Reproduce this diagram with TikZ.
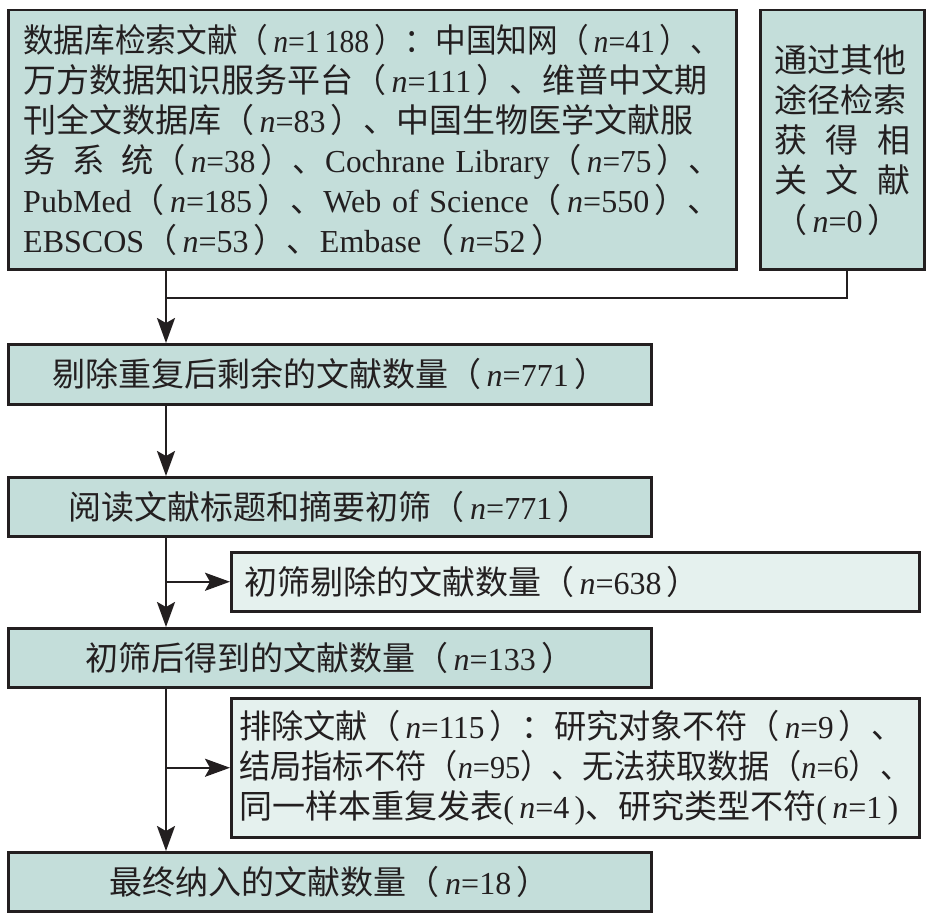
\documentclass[tikz,border=0pt]{standalone}
\usepackage{fontspec}
\usepackage{graphicx}
\setmainfont{Liberation Serif}[Scale=0.97]
\newfontfamily\cjk{Noto Sans CJK SC}
\usetikzlibrary{arrows.meta}
\definecolor{mainfill}{RGB}{196,222,218}
\definecolor{sidefill}{RGB}{229,241,238}
\definecolor{linec}{RGB}{35,31,32}
\newcommand\C[1]{{\cjk #1}}
\newcommand\Nv{\textit{n}}
\newsavebox\fitbox
\newcommand\fitto[2]{\sbox\fitbox{#2}\ifdim\wd\fitbox>#1\relax\resizebox{#1}{\height}{\usebox\fitbox}\else\makebox[#1][s]{#2}\fi}
\XeTeXlinebreaklocale "zh"
\XeTeXlinebreakskip=0pt plus 1pt
\tikzset{
  box/.style={draw=linec, line width=2.5pt, fill=mainfill, inner ysep=0pt,
    anchor=north west, text=linec, font=\fontsize{33}{40}\selectfont},
  sidebox/.style={box, fill=sidefill},
  arr/.style={draw=linec, line width=2.5pt, -{Stealth[length=25pt,width=18pt,inset=5pt]}},
  conn/.style={draw=linec, line width=2.5pt}
}
\begin{document}
\begin{tikzpicture}[x=1pt,y=-1pt]
\useasboundingbox (0,0) rectangle (933,917);
% top database box
\node[box, minimum width=728pt, minimum height=259pt, inner xsep=14pt,
      text width=698pt, align=left] (b1) at (7,9) {%
\fitto{698pt}{\C{数据库检索文献（}\,\Nv=1\,188\,\C{）：中国知网（}\,\Nv=41\,\C{）、}}\\
\fitto{698pt}{\C{万方数据知识服务平台（}\,\Nv=111\,\C{）、维普中文期}}\\
\fitto{698pt}{\C{刊全文数据库（}\,\Nv=83\,\C{）、中国生物医学文献服}}\\
\fitto{698pt}{\C{务}\hspace{17pt}\C{系}\hspace{17pt}\C{统（}\,\Nv=38\,\C{）、}Cochrane Library\C{（}\,\Nv=75\,\C{）、}}\\
\fitto{698pt}{PubMed\C{（}\,\Nv=185\,\C{）、}Web of Science\C{（}\,\Nv=550\,\C{）、}}\\
EBSCOS\C{（}\,\Nv=53\,\C{）、}Embase\C{（}\,\Nv=52\,\C{）}};
% other sources box
\node[box, minimum width=164pt, minimum height=259pt, inner xsep=14pt,
      text width=136pt, align=left] (b2) at (759,9) {%
\fitto{136pt}{\C{通过其他}}\\
\fitto{136pt}{\C{途径检索}}\\
\makebox[136pt][s]{\C{获}\hfill\C{得}\hfill\C{相}}\\
\makebox[136pt][s]{\C{关}\hfill\C{文}\hfill\C{献}}\\
\C{（}\,\Nv=0\,\C{）}};
% main flow
\node[box, minimum width=643pt, minimum height=60pt] (b3) at (7,343)
  {\C{剔除重复后剩余的文献数量（}\,\Nv=771\,\C{）}};
\node[box, minimum width=643pt, minimum height=59pt] (b4) at (7,476)
  {\C{阅读文献标题和摘要初筛（}\,\Nv=771\,\C{）}};
\node[sidebox, minimum width=688pt, minimum height=59pt, inner xsep=13pt,
      text width=662pt, align=left] (b5) at (230,551)
  {\C{初筛剔除的文献数量（}\,\Nv=638\,\C{）}};
\node[box, minimum width=643pt, minimum height=59pt] (b6) at (7,627)
  {\C{初筛后得到的文献数量（}\,\Nv=133\,\C{）}};
\node[sidebox, minimum width=688pt, minimum height=139pt, inner xsep=8pt,
      text width=672pt, align=left] (b7) at (230,697) {%
\fitto{664pt}{\C{排除文献（}\,\Nv=115\,\C{）：研究对象不符（}\,\Nv=9\,\C{）、}}\\
\fitto{672pt}{\C{结局指标不符（}\Nv=95\C{）、无法获取数据（}\Nv=6\C{）、}}\\
\fitto{664pt}{\C{同一样本重复发表}(\,\Nv=4\,)\C{、研究类型不符}(\,\Nv=1\,)}};
\node[box, minimum width=643pt, minimum height=59pt] (b8) at (7,851)
  {\C{最终纳入的文献数量（}\,\Nv=18\,\C{）}};
% connectors
\coordinate (j1) at (166,298);
\coordinate (j2) at (847,298);
\draw[conn] (b2.south -| j2) -- (j2) -- (j1);
\draw[arr] (b1.south -| j1) -- (b3.north -| j1);
\draw[arr] (b3.south -| j1) -- (b4.north -| j1);
\draw[arr] (b4.south -| j1) -- (b6.north -| j1);
\draw[arr] (b5.west -| j1) -- (b5.west);
\draw[arr] (b6.south -| j1) -- (b8.north -| j1);
\draw[arr] (b7.west -| j1) -- (b7.west);
\end{tikzpicture}
\end{document}
